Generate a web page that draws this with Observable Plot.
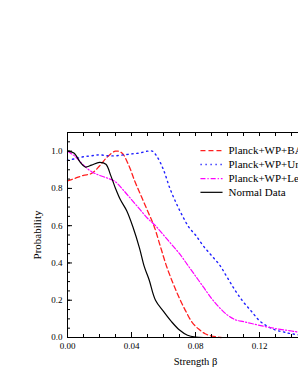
<!DOCTYPE html>
<html><head><meta charset="utf-8">
<script src="https://cdn.jsdelivr.net/npm/d3@7"></script>
<script src="https://cdn.jsdelivr.net/npm/@observablehq/plot@0.6"></script>
<style>
html,body{margin:0;padding:0;background:#fff;overflow:hidden;width:298px;height:385px}
#chart{width:298px;height:385px;overflow:hidden}
#chart svg{display:block;max-width:none !important}
</style></head><body><div id="chart"></div>
<script>
const betaBlack = [0,0.004,0.008,0.011,0.015,0.02,0.024,0.027,0.03,0.033,0.037,0.041,0.045,0.048,0.051,0.055,0.06,0.065,0.07,0.075,0.08,0.085];
const probBlack = [1.0,0.99,0.94,0.915,0.925,0.94,0.93,0.87,0.80,0.74,0.68,0.59,0.48,0.38,0.31,0.20,0.14,0.085,0.04,0.012,0.002,0];

const betaRed = [0,0.005,0.01,0.015,0.02,0.025,0.03,0.034,0.038,0.042,0.046,0.05,0.054,0.058,0.062,0.066,0.07,0.074,0.078,0.082,0.086,0.09,0.096];
const probRed = [0.84,0.855,0.87,0.88,0.92,0.97,1.0,0.99,0.93,0.84,0.76,0.68,0.6,0.49,0.38,0.29,0.21,0.14,0.08,0.045,0.02,0.008,0];

const betaBlue = [0,0.005,0.01,0.015,0.02,0.025,0.03,0.035,0.04,0.045,0.05,0.053,0.056,0.06,0.064,0.068,0.072,0.076,0.08,0.085,0.09,0.095,0.1,0.105,0.11,0.115,0.12,0.125,0.13,0.135,0.14,0.15,0.16];
const probBlue = [0.95,0.96,0.97,0.975,0.98,0.975,0.975,0.98,0.985,0.99,1.0,1.0,0.97,0.9,0.8,0.72,0.65,0.59,0.55,0.49,0.44,0.39,0.32,0.25,0.19,0.14,0.09,0.06,0.04,0.03,0.02,0.01,0.005];

const betaMag = [0,0.005,0.01,0.015,0.02,0.025,0.03,0.035,0.04,0.045,0.05,0.055,0.06,0.065,0.07,0.075,0.08,0.085,0.09,0.095,0.1,0.105,0.11,0.115,0.12,0.13,0.14,0.15,0.16];
const probMag = [1.0,0.97,0.925,0.89,0.87,0.855,0.835,0.79,0.74,0.69,0.64,0.6,0.55,0.5,0.45,0.39,0.33,0.27,0.21,0.16,0.12,0.095,0.085,0.075,0.065,0.048,0.035,0.022,0.012];

const seriesNames = ["Planck+WP+BAO","Planck+WP+Union2.1","Planck+WP+Lensing","Normal Data"];
const xMajorTicks = [0,0.04,0.08,0.12];
const xMinorTicks = d3.range(0,0.1601,0.01).map(v=>+v.toFixed(2));
const yMajorTicks = [0,0.2,0.4,0.6,0.8,1.0];
const yMinorTicks = d3.range(0,1.101,0.05).map(v=>+v.toFixed(2));

const toRows = (bs, ps) => bs.map((b,i)=>({b, p: ps[i]}));
const styles = [
  {stroke:"#ff2020", dash:"5,3", w:1.3},
  {stroke:"#2020ff", dash:"1.3,3.7", w:1.4},
  {stroke:"#ff00ff", dash:"5,2,1.2,2", w:1.2},
  {stroke:"#000000", dash:null, w:1.2}
];
const data = [toRows(betaRed,probRed), toRows(betaBlue,probBlue), toRows(betaMag,probMag), toRows(betaBlack,probBlack)];

// legend rows (data coords)
const legY = [1.003,0.928,0.853,0.779];
const legRows = seriesNames.map((n,i)=>({n, y: legY[i], i}));

const font = "Liberation Serif, Times New Roman, serif";
const marks = [];
data.forEach((rows,i)=>{
  const s = styles[i];
  marks.push(Plot.line(rows,{x:"b",y:"p",stroke:s.stroke,strokeWidth:s.w,strokeDasharray:s.dash,curve:"catmull-rom"}));
});
legRows.forEach(r=>{
  const s = styles[r.i];
  marks.push(Plot.link([r],{x1:()=>0.0831,x2:()=>0.0969,y1:"y",y2:"y",stroke:s.stroke,strokeWidth:s.w,strokeDasharray:s.dash}));
});
marks.push(Plot.text(legRows,{x:()=>0.1006,y:"y",text:"n",textAnchor:"start",fontSize:11,fill:"#000"}));
marks.push(Plot.frame({stroke:"#000",strokeWidth:1}));
marks.push(Plot.axisX({anchor:"bottom",ticks:xMinorTicks,tickSize:-3,tickFormat:()=>"",label:null}));
marks.push(Plot.axisX({anchor:"bottom",ticks:xMajorTicks,tickSize:-5,tickFormat:()=>"",label:null}));
marks.push(Plot.axisX({anchor:"top",ticks:xMinorTicks,tickSize:-3,tickFormat:()=>"",label:null}));
marks.push(Plot.axisX({anchor:"bottom",ticks:xMajorTicks,tickSize:0,tickPadding:5,tickFormat:d3.format(".2f"),fontSize:9,label:null}));
marks.push(Plot.axisX({anchor:"bottom",ticks:[],fontSize:10.5,label:"Strength β",labelAnchor:"center",labelArrow:"none",labelOffset:27}));
marks.push(Plot.axisY({anchor:"left",ticks:yMinorTicks,tickSize:-3,tickFormat:()=>"",label:null}));
marks.push(Plot.axisY({anchor:"left",ticks:yMajorTicks,tickSize:-5,tickFormat:()=>"",label:null}));
marks.push(Plot.axisY({anchor:"left",ticks:yMajorTicks,tickSize:0,tickPadding:5,tickFormat:d3.format(".1f"),fontSize:9,label:null}));
marks.push(Plot.axisY({anchor:"left",ticks:[],fontSize:11,label:"Probability",labelAnchor:"center",labelArrow:"none",labelOffset:34}));

const chart = Plot.plot({
  width:340, height:385,
  marginTop:132, marginBottom:48, marginLeft:67, marginRight:17,
  style:{fontFamily:font, fontSize:"10.5px", color:"#000", background:"#fff", maxWidth:"none"},
  x:{domain:[0,0.16]},
  y:{domain:[0,1.1]},
  marks
});
document.getElementById("chart").appendChild(chart);
</script></body></html>
